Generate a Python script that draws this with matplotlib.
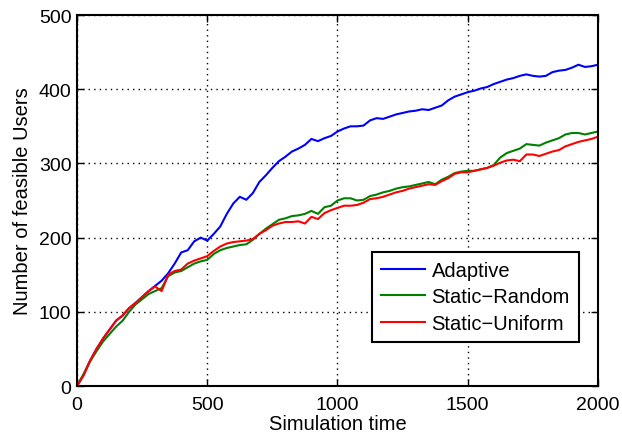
import matplotlib
matplotlib.use("Agg")
import matplotlib.pyplot as plt

plt.rcParams['font.family'] = ['Liberation Sans', 'DejaVu Sans']

t = list(range(0, 2001, 25))

adaptive = [0, 15, 34, 50, 64, 76, 88, 95, 105, 112, 120, 128, 135, 142, 152, 165,
            180, 183, 195, 200, 196, 205, 215, 232, 246, 255, 251, 260, 275, 284,
            294, 303, 309, 316, 320, 325, 333, 330, 334, 337, 343, 347, 350, 350,
            351, 358, 361, 360, 363, 366, 368, 370, 371, 373, 372, 375, 378, 385,
            390, 393, 396, 398, 401, 403, 407, 410, 413, 415, 418, 420, 418, 417,
            418, 423, 425, 426, 429, 433, 430, 431, 433]

static_random = [0, 16, 33, 47, 60, 70, 80, 88, 100, 110, 117, 124, 128, 132, 148,
                 153, 155, 160, 165, 168, 170, 178, 183, 186, 188, 190, 191, 197,
                 205, 212, 218, 224, 226, 229, 230, 232, 236, 232, 241, 243, 250,
                 253, 253, 250, 251, 256, 258, 261, 263, 266, 268, 269, 271, 273,
                 275, 272, 278, 282, 287, 289, 290, 290, 292, 294, 298, 308, 314,
                 317, 320, 326, 325, 324, 328, 331, 334, 339, 341, 341, 339, 341, 343]

static_uniform = [0, 14, 34, 50, 64, 76, 88, 95, 105, 112, 120, 128, 134, 128, 150,
                  155, 157, 165, 169, 172, 175, 182, 188, 192, 194, 195, 196, 198,
                  205, 210, 216, 219, 221, 221, 222, 219, 228, 225, 233, 237, 240,
                  243, 243, 244, 247, 252, 253, 255, 258, 261, 263, 266, 268, 270,
                  272, 271, 276, 280, 286, 288, 288, 290, 292, 294, 297, 301, 304,
                  305, 303, 312, 312, 310, 313, 316, 318, 323, 326, 329, 331, 333, 336]

fig = plt.figure(figsize=(6.22, 4.35), dpi=100)
ax = fig.add_axes([0.1238, 0.1103, 0.8376, 0.8529])

ax.plot(t, adaptive, color=(0, 0, 1), lw=1.5, label='Adaptive')
ax.plot(t, static_random, color=(0, 0.5, 0), lw=1.5, label='Static\u2212Random')
ax.plot(t, static_uniform, color=(1, 0, 0), lw=1.5, label='Static\u2212Uniform')

ax.set_xlim(0, 2000)
ax.set_ylim(0, 500)
ax.set_xticks([0, 500, 1000, 1500, 2000])
ax.set_yticks([0, 100, 200, 300, 400, 500])
ax.grid(True, color='black', linestyle=(0, (1, 3)), linewidth=1.0)
ax.tick_params(direction='in', top=True, right=True, length=5, width=1,
               labelsize=14)
ax.tick_params(axis='x', pad=7)
ax.tick_params(axis='y', pad=4)
for s in ax.spines.values():
    s.set_linewidth(1.5)

ax.set_xlabel('Simulation time', fontsize=14.5, labelpad=1)
ax.set_ylabel('Number of feasible Users', fontsize=14.5, labelpad=5)

leg = ax.legend(loc='lower right', bbox_to_anchor=(0.9635, 0.1186), fontsize=14.5,
                fancybox=False, framealpha=1, edgecolor='black',
                handlelength=2.2, borderpad=0.45, labelspacing=0.38,
                handletextpad=0.3, borderaxespad=0)
leg.get_frame().set_linewidth(1.5)

fig.savefig('out.png', dpi=100)
